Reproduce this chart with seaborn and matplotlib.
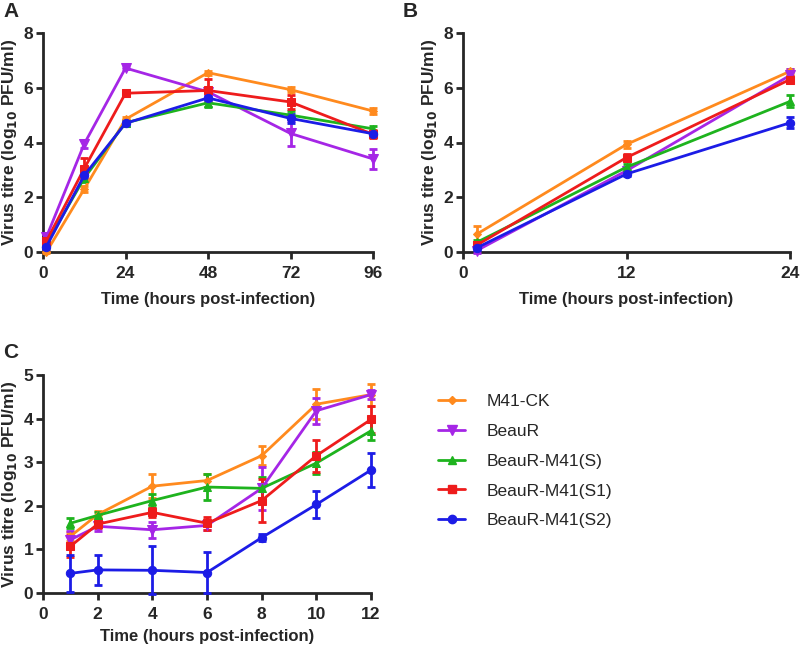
import numpy as np
import pandas as pd
import seaborn as sns
import matplotlib.pyplot as plt
from matplotlib.lines import Line2D

# Séries e cores (ordem da legenda)
strains = ['M41-CK', 'BeauR', 'BeauR-M41(S)', 'BeauR-M41(S1)', 'BeauR-M41(S2)']
colors = ['#FF8A1E', '#A526E6', '#1EB31E', '#EE1C1C', '#1C1CE6']
markers = ['D', 'v', '^', 's', 'o']
msizes = [4, 7, 6, 6, 6]

# Painel A
time_a = [1, 12, 24, 48, 72, 96]
mean_a = {
    'M41-CK':        [0.0, 2.3, 4.85, 6.55, 5.93, 5.15],
    'BeauR':         [0.55, 3.95, 6.72, 5.85, 4.33, 3.4],
    'BeauR-M41(S)':  [0.3, 2.7, 4.72, 5.45, 5.0, 4.5],
    'BeauR-M41(S1)': [0.4, 3.05, 5.8, 5.9, 5.48, 4.3],
    'BeauR-M41(S2)': [0.2, 2.8, 4.7, 5.63, 4.88, 4.32],
}
sem_a = {
    'M41-CK':        [0.05, 0.1, 0.08, 0.08, 0.08, 0.12],
    'BeauR':         [0.12, 0.15, 0.05, 0.15, 0.45, 0.35],
    'BeauR-M41(S)':  [0.1, 0.15, 0.1, 0.15, 0.15, 0.12],
    'BeauR-M41(S1)': [0.1, 0.38, 0.1, 0.42, 0.25, 0.15],
    'BeauR-M41(S2)': [0.08, 0.1, 0.08, 0.1, 0.15, 0.1],
}

# Painel B
time_b = [1, 12, 24]
mean_b = {
    'M41-CK':        [0.65, 3.93, 6.6],
    'BeauR':         [0.05, 2.97, 6.45],
    'BeauR-M41(S)':  [0.35, 3.1, 5.5],
    'BeauR-M41(S1)': [0.25, 3.45, 6.3],
    'BeauR-M41(S2)': [0.15, 2.85, 4.72],
}
sem_b = {
    'M41-CK':        [0.3, 0.12, 0.1],
    'BeauR':         [0.08, 0.12, 0.25],
    'BeauR-M41(S)':  [0.1, 0.1, 0.22],
    'BeauR-M41(S1)': [0.1, 0.12, 0.12],
    'BeauR-M41(S2)': [0.08, 0.08, 0.2],
}

# Painel C
time_c = [1, 2, 4, 6, 8, 10, 12]
mean_c = {
    'M41-CK':        [1.3, 1.8, 2.45, 2.58, 3.15, 4.33, 4.55],
    'BeauR':         [1.22, 1.53, 1.45, 1.55, 2.4, 4.18, 4.55],
    'BeauR-M41(S)':  [1.6, 1.78, 2.12, 2.43, 2.4, 2.98, 3.72],
    'BeauR-M41(S1)': [1.07, 1.58, 1.85, 1.6, 2.12, 3.15, 3.98],
    'BeauR-M41(S2)': [0.45, 0.53, 0.52, 0.47, 1.27, 2.03, 2.82],
}
sem_c = {
    'M41-CK':        [0.1, 0.08, 0.28, 0.15, 0.22, 0.35, 0.25],
    'BeauR':         [0.2, 0.1, 0.18, 0.1, 0.5, 0.3, 0.1],
    'BeauR-M41(S)':  [0.12, 0.08, 0.15, 0.3, 0.25, 0.25, 0.2],
    'BeauR-M41(S1)': [0.25, 0.1, 0.1, 0.15, 0.5, 0.37, 0.3],
    'BeauR-M41(S2)': [0.42, 0.35, 0.55, 0.48, 0.08, 0.3, 0.38],
}

sns.set_style('ticks')
plt.rcParams['font.family'] = ['Liberation Sans', 'DejaVu Sans']

fig = plt.figure(figsize=(8, 6.49), dpi=100)
W, H = 800, 649


def add_ax(x0, x1, y0, y1):
    return fig.add_axes([x0 / W, 1 - y1 / H, (x1 - x0) / W, (y1 - y0) / H])


def painel(ax, times, means, sems, xticks, ymax, yticks, xpad):
    rows = []
    for s in strains:
        for t, m, e in zip(times, means[s], sems[s]):
            rows.append({'tempo': t, 'titulo': m, 'sem': e, 'cepa': s})
    df = pd.DataFrame(rows)
    for s, c, mk, ms in zip(strains, colors, markers, msizes):
        d = df[df['cepa'] == s]
        ax.errorbar(d['tempo'], d['titulo'], yerr=d['sem'], fmt='none',
                    ecolor=c, elinewidth=2, capsize=3, capthick=2,
                    clip_on=False, zorder=3)
        sns.lineplot(data=d, x='tempo', y='titulo', ax=ax, color=c,
                     marker=mk, markersize=ms, markeredgecolor=c,
                     linewidth=2, clip_on=False, zorder=4, legend=False)
    ax.set_xlim(0, xticks[-1])
    ax.set_ylim(0, ymax)
    ax.set_xticks(xticks)
    ax.set_yticks(yticks)
    for sp in ['top', 'right']:
        ax.spines[sp].set_visible(False)
    for sp in ['left', 'bottom']:
        ax.spines[sp].set_linewidth(2)
    ax.tick_params(width=2, length=5, labelsize=12.5, pad=2)
    ax.tick_params(axis='x', pad=5)
    for lb in ax.get_xticklabels() + ax.get_yticklabels():
        lb.set_fontweight('bold')
    ax.set_xlabel('Time (hours post-infection)', fontsize=12,
                  fontweight='bold', labelpad=xpad)
    ax.set_ylabel('Virus titre (log$_{\\mathbf{10}}$ PFU/ml)', fontsize=12.5,
                  fontweight='bold', labelpad=3)


ax_a = add_ax(43, 373, 33, 252)
painel(ax_a, time_a, mean_a, sem_a, [0, 24, 48, 72, 96], 8, [0, 2, 4, 6, 8], 8)

ax_b = add_ax(463, 790, 33, 252)
painel(ax_b, time_b, mean_b, sem_b, [0, 12, 24], 8, [0, 2, 4, 6, 8], 8)

ax_c = add_ax(43, 371, 375, 593)
painel(ax_c, time_c, mean_c, sem_c, [0, 2, 4, 6, 8, 10, 12], 5,
       [0, 1, 2, 3, 4, 5], 5)

for txt, x, y in [('A', 3, 2), ('B', 403, 2), ('C', 3, 343)]:
    fig.text(x / W, 1 - y / H, txt, fontsize=15, fontweight='bold',
             va='top', ha='left')

handles = [Line2D([0], [0], color=c, marker=mk, markersize=ms,
                  markeredgecolor=c, linewidth=2)
           for c, mk, ms in zip(colors, markers, msizes)]
fig.legend(handles, strains, loc='upper left',
           bbox_to_anchor=(422 / W, 1 - 378 / H), frameon=False,
           fontsize=12.5, handlelength=1.6, labelspacing=0.85,
           handletextpad=1.2)

fig.savefig('out.png', dpi=100, facecolor='white')
